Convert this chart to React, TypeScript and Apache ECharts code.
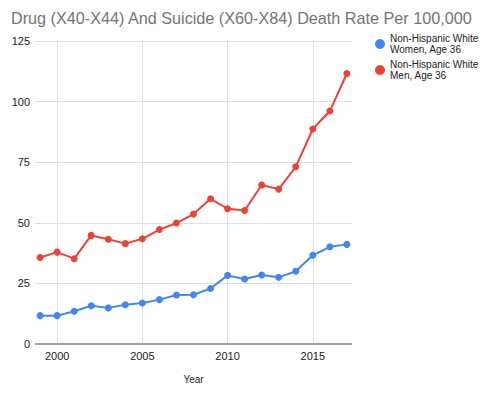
import React, { useEffect, useRef } from "react";
import * as echarts from "echarts";

const years = [1999, 2000, 2001, 2002, 2003, 2004, 2005, 2006, 2007, 2008, 2009, 2010, 2011, 2012, 2013, 2014, 2015, 2016, 2017];
const women = [11.7, 11.7, 13.5, 15.8, 14.9, 16.2, 16.9, 18.3, 20.2, 20.3, 22.9, 28.3, 26.8, 28.5, 27.5, 30.0, 36.6, 40.1, 41.1];
const men = [35.7, 37.9, 35.2, 44.8, 43.2, 41.4, 43.4, 47.2, 49.9, 53.6, 59.9, 55.8, 55.1, 65.6, 63.9, 73.1, 88.7, 96.1, 111.6];
const xTicks = [2000, 2005, 2010, 2015];
const womenName = "Non-Hispanic White\nWomen, Age 36";
const menName = "Non-Hispanic White\nMen, Age 36";

export default function App() {
  const ref = useRef<HTMLDivElement>(null);
  useEffect(() => {
    if (!ref.current) return;
    const chart = echarts.init(ref.current, null, { renderer: "svg" });
    const font = "Arial, 'Liberation Sans', sans-serif";
    chart.setOption({
      animation: false,
      title: {
        text: "Drug (X40-X44) And Suicide (X60-X84) Death Rate Per 100,000",
        left: 6,
        top: 5,
        textStyle: { fontFamily: font, fontSize: 16.2, fontWeight: "normal", color: "#757575" },
      },
      legend: {
        orient: "vertical",
        left: 370,
        top: 28,
        icon: "circle",
        itemWidth: 10,
        itemHeight: 10,
        itemGap: 4,
        textStyle: { fontFamily: font, fontSize: 10, color: "#222", lineHeight: 11 },
        data: [womenName, menName],
      },
      grid: { left: 35, right: 145, top: 41, bottom: 49 },
      xAxis: {
        type: "value",
        min: 1998.7,
        max: 2017.3,
        name: "Year",
        nameLocation: "middle",
        nameGap: 30,
        nameTextStyle: { fontFamily: font, fontSize: 10, color: "#222" },
        axisLine: { show: false },
        axisTick: { show: false, customValues: xTicks },
        axisLabel: {
          customValues: xTicks,
          fontFamily: font,
          fontSize: 11,
          color: "#222",
          margin: 6,
          formatter: (v: number) => String(v),
        },
        splitLine: { show: true, lineStyle: { color: "#e0e0e0", width: 1 } },
      },
      yAxis: {
        type: "value",
        min: 0,
        max: 125,
        interval: 25,
        axisLine: { show: false },
        axisTick: { show: false },
        axisLabel: { fontFamily: font, fontSize: 11, color: "#222", margin: 5 },
        splitLine: { show: true, lineStyle: { color: "#e0e0e0", width: 1 } },
      },
      series: [
        {
          name: womenName,
          type: "line",
          data: years.map((y, i) => [y, women[i]]),
          color: "#4285f4",
          lineStyle: { width: 2 },
          symbol: "circle",
          symbolSize: 7,
        },
        {
          name: menName,
          type: "line",
          data: years.map((y, i) => [y, men[i]]),
          color: "#ea4335",
          lineStyle: { width: 2 },
          symbol: "circle",
          symbolSize: 7,
        },
        {
          type: "line",
          silent: true,
          data: [],
          markLine: {
            silent: true,
            symbol: "none",
            label: { show: false },
            lineStyle: { color: "#9e9e9e", width: 2, type: "solid" },
            data: [[{ coord: [1998.7, 0] }, { coord: [2017.3, 0] }]],
          },
        },
      ],
    });
    return () => chart.dispose();
  }, []);
  return <div ref={ref} style={{ width: 497, height: 393, margin: -8 }} />;
}
